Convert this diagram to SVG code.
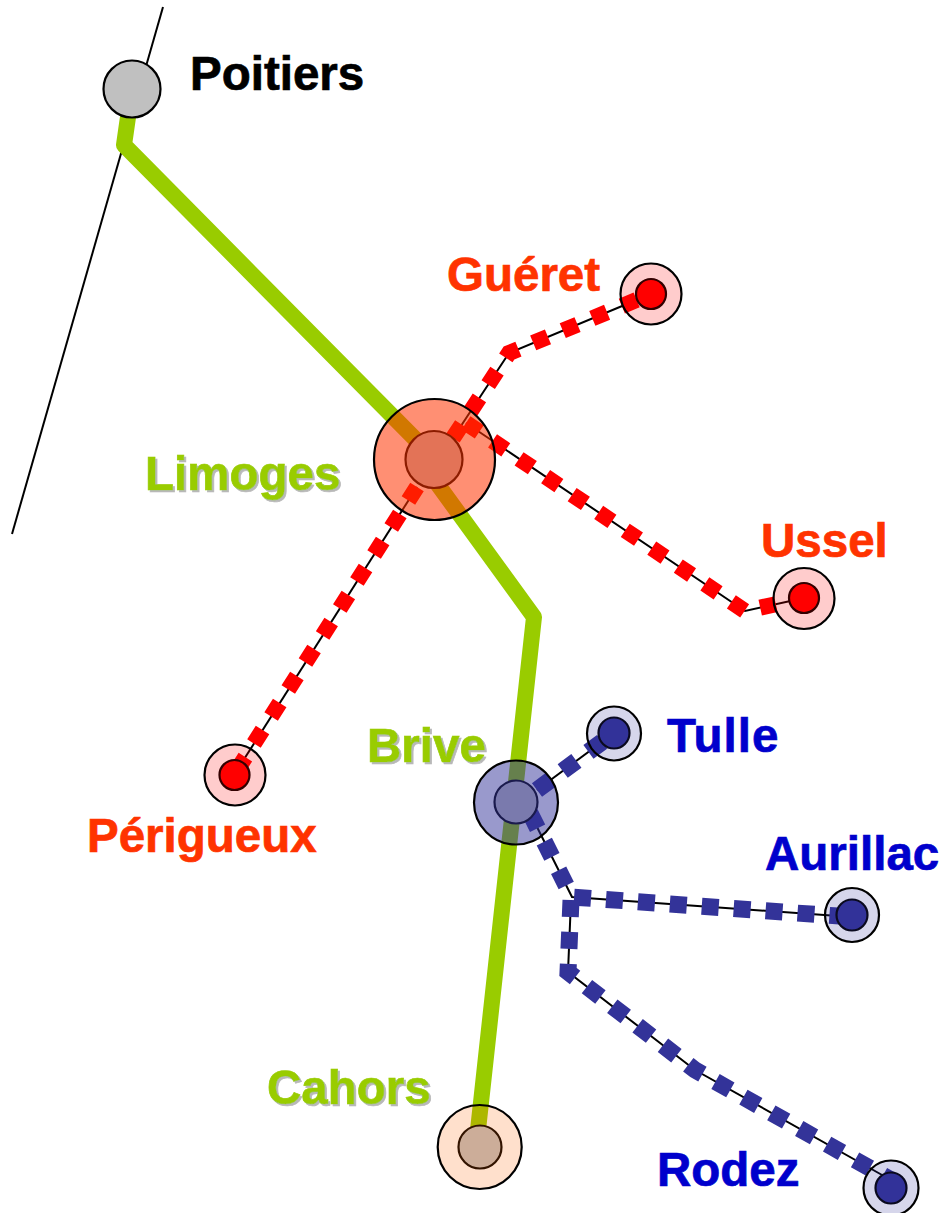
<svg xmlns="http://www.w3.org/2000/svg" width="941" height="1213" viewBox="0 0 941 1213">
<style>
text{font-family:"Liberation Sans",Arial,sans-serif;font-weight:700;font-size:47.5px;stroke-width:.7px}
.g{fill:#99cc00;stroke:#99cc00;filter:url(#shadow)}.r{fill:#ff3300;stroke:#ff3300}.b{fill:#0000cc;stroke:#0000cc}.k{fill:#000;stroke:#000}
.ln{fill:none;stroke:#000;stroke-width:2}
.rd{fill:none;stroke:#ff0000;stroke-width:16;stroke-dasharray:16 16}
.bd{fill:none;stroke:#333399;stroke-width:17;stroke-dasharray:17 15}
.grn{fill:none;stroke:#99cc00;stroke-width:16;stroke-linejoin:round}
circle{stroke:#000;stroke-width:2.2}
.in{fill:#c0c0c0}.ir{fill:#ff0000}.ib{fill:#333399}
</style>
<defs>
<filter id="shadow" x="-5%" y="-10%" width="110%" height="120%"><feDropShadow dx="2" dy="2" stdDeviation="0.5" flood-color="#b8b8b8"/></filter>
</defs>
<g id="connectors">
<path class="ln" d="M163 7L12 534"/>
<path class="grn" d="M132 89L124 145L434 458"/>
<path class="grn" d="M420 460L534 617L478 1130"/>
<path class="ln" d="M453 438L509 353L651 294"/>
<path class="rd" d="M453 438L509 353L651 294"/>
<path class="ln" d="M466 423L745 611L804 598"/>
<path class="rd" d="M466 423L745 611L804 598"/>
<path class="ln" d="M417 487L234 775"/>
<path class="rd" d="M417 487L234 775"/>
<path class="ln" d="M537 790L614 733"/>
<path class="bd" d="M537 790L614 733"/>
<path class="ln" d="M530 813L572 897L852 917"/>
<path class="bd" d="M530 813L572 897L852 917"/>
<path class="ln" d="M571 900L568 972L695 1070L891 1180"/>
<path class="bd" d="M571 900L568 972L695 1070L891 1180"/>
</g>
<g id="poitiers"><circle class="in" cx="132" cy="89" r="28.5"/><text class="k" x="190" y="90">Poitiers</text></g>
<g id="limoges"><circle class="in" cx="434" cy="459.500" r="28.500"/><circle cx="434.500" cy="459.500" r="60.500" fill="#ff3300" fill-opacity=".55"/><text class="g" x="145" y="490">Limoges</text></g>
<g id="brive"><circle class="in" cx="516" cy="802" r="21.500"/><circle cx="516" cy="802.500" r="42" fill="#333399" fill-opacity=".5"/><text class="g" x="367" y="762">Brive</text></g>
<g id="cahors"><circle class="in" cx="480" cy="1147" r="21.500"/><circle cx="479.700" cy="1147" r="42" fill="#ff6600" fill-opacity=".2"/><text class="g" x="267" y="1104">Cahors</text></g>
<g id="gueret"><circle class="ir" cx="651" cy="294" r="15"/><circle cx="651" cy="294" r="30.500" fill="#ff0000" fill-opacity=".2"/><text class="r" x="447" y="291">Guéret</text></g>
<g id="ussel"><circle class="ir" cx="804" cy="598" r="15"/><circle cx="804" cy="598.500" r="30.500" fill="#ff0000" fill-opacity=".2"/><text class="r" x="761" y="557">Ussel</text></g>
<g id="perigueux"><circle class="ir" cx="234.500" cy="775" r="15"/><circle cx="235" cy="775" r="30.500" fill="#ff0000" fill-opacity=".2"/><text class="r" x="87" y="852">Périgueux</text></g>
<g id="tulle"><circle class="ib" cx="614" cy="733" r="15.500"/><circle cx="614" cy="733.500" r="27" fill="#333399" fill-opacity=".2"/><text class="b" x="667" y="752" letter-spacing="1">Tulle</text></g>
<g id="aurillac"><circle class="ib" cx="852" cy="915" r="15.500"/><circle cx="852" cy="915" r="27" fill="#333399" fill-opacity=".2"/><text class="b" x="765" y="870">Aurillac</text></g>
<g id="rodez"><circle class="ib" cx="891" cy="1188" r="15.500"/><circle cx="891" cy="1188" r="27.500" fill="#333399" fill-opacity=".2"/><text class="b" x="657" y="1186">Rodez</text></g>
</svg>
